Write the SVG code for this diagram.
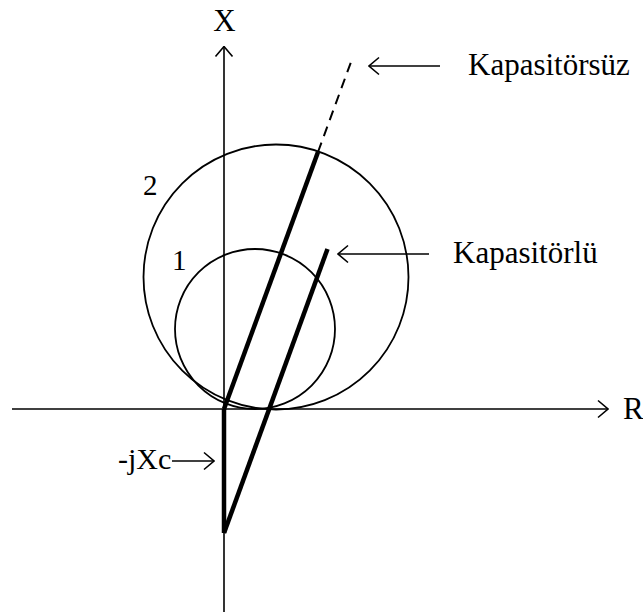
<svg xmlns="http://www.w3.org/2000/svg" width="643" height="612" viewBox="0 0 643 612">
<style>
.thin{fill:none;stroke:#000;stroke-width:1.6}
.thick{fill:none;stroke:#000;stroke-width:4.5;stroke-linecap:butt}
.circ{fill:none;stroke:#000;stroke-width:1.8}
text{font-family:"Liberation Serif","Times New Roman",Tinos,"DejaVu Serif",serif;fill:#000}
.lbl{font-size:31px}
.num{font-size:29px}
</style>
<defs>
<marker id="open" viewBox="-11 -10 12 20" refX="0" refY="0" markerWidth="12" markerHeight="20" markerUnits="userSpaceOnUse" orient="auto">
<path d="M-10,-8.5 L0,0 L-10,8.5" fill="none" stroke="#000" stroke-width="1.6"/>
</marker>
</defs>
<rect width="643" height="612" fill="#fff"/>
<g id="axes">
<line id="x-axis" class="thin" x1="224" y1="612" x2="224" y2="46.5" marker-end="url(#open)"/>
<line id="r-axis" class="thin" x1="12" y1="409" x2="608" y2="409" marker-end="url(#open)"/>
</g>
<g id="circle2"><circle class="circ" cx="276" cy="277" r="132.5"/></g>
<g id="circle1"><circle class="circ" cx="255" cy="329" r="80"/></g>
<g id="connectors">
<line id="kapasitorsuz-line" class="thick" x1="224" y1="409" x2="318" y2="152"/>
<line id="kapasitorsuz-dash" fill="none" stroke="#000" stroke-width="2" stroke-dasharray="10 7" x1="318" y1="152" x2="351" y2="62"/>
<line id="xc-line" class="thick" x1="224" y1="409" x2="224" y2="533"/>
<line id="kapasitorlu-line" class="thick" x1="224" y1="533" x2="327.5" y2="249"/>
<line class="thin" x1="440" y1="66" x2="369" y2="66" marker-end="url(#open)"/>
<line class="thin" x1="429" y1="254" x2="338" y2="254" marker-end="url(#open)"/>
<line class="thin" x1="172" y1="461" x2="214" y2="461" marker-end="url(#open)"/>
</g>
<g id="labels">
<text class="lbl" x="224.5" y="31" text-anchor="middle" font-family="Liberation Serif, serif">X</text>
<text class="lbl" x="623" y="419" font-family="Liberation Serif, serif">R</text>
<text class="lbl" x="468" y="75" font-family="Liberation Serif, serif">Kapasitörsüz</text>
<text class="lbl" x="453" y="263" font-family="Liberation Serif, serif">Kapasitörlü</text>
<text class="num" x="143" y="195" font-family="Liberation Serif, serif">2</text>
<text class="num" x="172" y="270" font-family="Liberation Serif, serif">1</text>
<text x="118" y="469" font-size="30" font-family="Liberation Serif, serif">-jXc</text>
</g>
</svg>
